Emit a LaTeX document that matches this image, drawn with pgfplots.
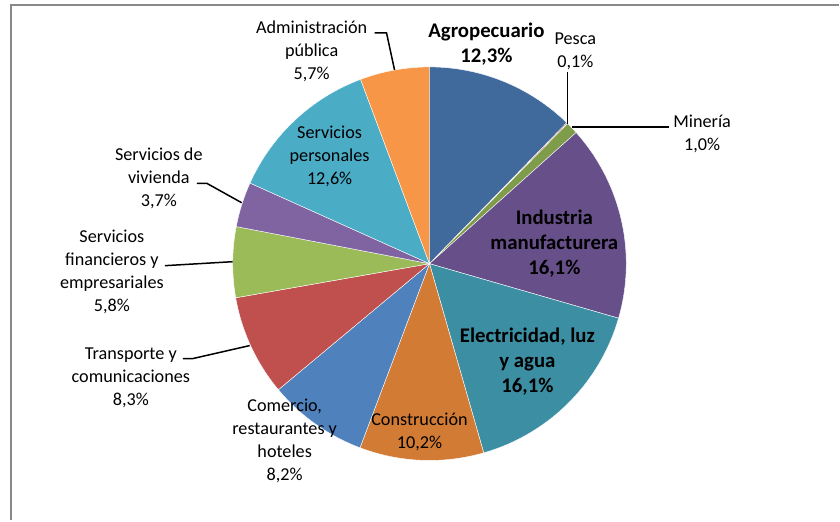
\documentclass[border=0pt]{standalone}
\usepackage{pgfplots}
\usepackage{pgfplotstable}
\pgfplotsset{compat=1.18}
\usepackage{fontspec}
\setmainfont{Carlito}

\definecolor{pie0}{HTML}{416A9C}
\definecolor{pie1}{HTML}{A4403D}
\definecolor{pie2}{HTML}{7E9C4A}
\definecolor{pie3}{HTML}{674F89}
\definecolor{pie4}{HTML}{3C8EA3}
\definecolor{pie5}{HTML}{D27B35}
\definecolor{pie6}{HTML}{4F81BD}
\definecolor{pie7}{HTML}{C0504D}
\definecolor{pie8}{HTML}{9BBB59}
\definecolor{pie9}{HTML}{8064A2}
\definecolor{pie10}{HTML}{4BACC6}
\definecolor{pie11}{HTML}{F79646}
\definecolor{framegray}{HTML}{898989}

% sector, share (%)
\pgfplotstableread[col sep=comma]{
sector,value
Agropecuario,12.3
Pesca,0.1
Mineria,1.0
Industria,16.1
Electricidad,16.1
Construccion,10.2
Comercio,8.2
Transporte,8.3
Financieros,5.8
Vivienda,3.7
Personales,12.6
Administracion,5.7
}\piedata

\begin{document}
\begin{tikzpicture}
% compute the start and end angles of each slice from the table
\def\cum{0}
\def\total{100.1}
\pgfplotsforeachungrouped \i in {0,...,11}{%
  \pgfplotstablegetelem{\i}{value}\of\piedata
  \let\val\pgfplotsretval
  \pgfmathsetmacro\a{90-\cum/\total*360}%
  \pgfmathsetmacro\cum{\cum+\val}%
  \pgfmathsetmacro\b{90-\cum/\total*360}%
  \expandafter\xdef\csname sa\i\endcsname{\a}%
  \expandafter\xdef\csname ea\i\endcsname{\b}%
}
\begin{axis}[
  x=1pt, y=1pt,
  xmin=0, xmax=840, ymin=0, ymax=521,
  y dir=reverse,
  hide axis, clip=false,
  scale only axis,
]
\path (axis cs:0,0) rectangle (axis cs:840,521);
\draw[framegray, line width=2pt] (axis cs:11,521) -- (axis cs:11,5.5) -- (axis cs:840,5.5);

\pgfplotsinvokeforeach{0,...,11}{
  \fill[pie#1, draw=white, line width=0.4pt] (axis cs:430,264) -- ++(\csname sa#1\endcsname:197pt)
    arc[start angle=\csname sa#1\endcsname, end angle=\csname ea#1\endcsname, radius=197pt] -- cycle;
}

% leader lines
\tikzset{lead/.style={black, line width=1.5pt}}
\draw[lead] (axis cs:375,33) -- (axis cs:387,33) -- (axis cs:395,70);
\draw[lead] (axis cs:568,72) -- (axis cs:568,124);
\draw[lead] (axis cs:573,127) -- (axis cs:670,127);
\draw[lead] (axis cs:197,183.5) -- (axis cs:207,183.5) -- (axis cs:242,203);
\draw[lead] (axis cs:165,266) -- (axis cs:233,262);
\draw[lead] (axis cs:183,359) -- (axis cs:193,359) -- (axis cs:250,346);

% labels
\tikzset{lab/.style={align=center, font=\fontsize{18.2}{23}\selectfont, inner sep=0pt, text=black},
         blab/.style={align=center, font=\fontsize{20.8}{25}\selectfont\bfseries, inner sep=0pt, text=black}}
\node[blab] at (axis cs:487,44) {Agropecuario\\12,3\%};
\node[lab] at (axis cs:576,51) {Pesca\\0,1\%};
\node[lab] at (axis cs:703,134) {Minería\\1,0\%};
\node[blab] at (axis cs:555,244) {Industria\\manufacturera\\16,1\%};
\node[blab] at (axis cs:528,362) {Electricidad, luz\\y agua\\16,1\%};
\node[lab] at (axis cs:420,432) {Construcción\\10,2\%};
\node[lab] at (axis cs:285,441) {Comercio,\\restaurantes y\\hoteles\\8,2\%};
\node[lab] at (axis cs:131,378) {Transporte y\\comunicaciones\\8,3\%};
\node[lab] at (axis cs:112,272) {Servicios\\financieros y\\empresariales\\5,8\%};
\node[lab] at (axis cs:159,179) {Servicios de\\vivienda\\3,7\%};
\node[lab] at (axis cs:330,157) {Servicios\\personales\\12,6\%};
\node[lab] at (axis cs:312,51) {Administración\\pública\\5,7\%};
\end{axis}
\end{tikzpicture}
\end{document}
